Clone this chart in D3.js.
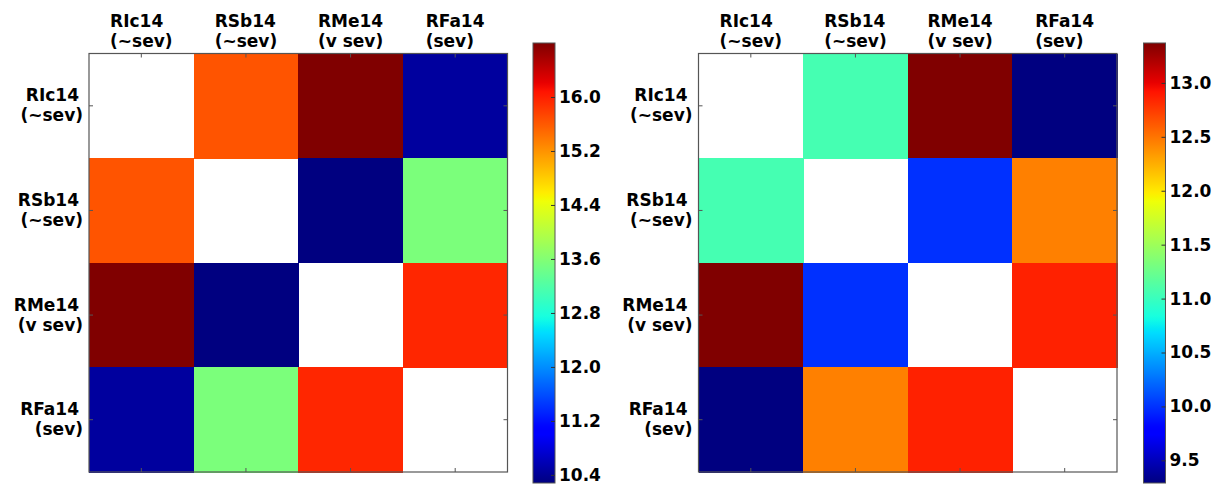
<!DOCTYPE html>
<html>
<head>
<meta charset="utf-8">
<script src="https://cdn.jsdelivr.net/npm/d3@7"></script>
<style>
  body { margin: 0; background: #fff; }
  svg text { font-family: "DejaVu Sans", sans-serif; font-weight: bold; font-size: 17px; fill: #000; }
</style>
</head>
<body>
<div id="graph-wrapper"></div>
<script>
const sites = ["RIc14", "RSb14", "RMe14", "RFa14"];
const severity = ["(~sev)", "(~sev)", "(v sev)", "(sev)"];

// left panel (diagonal empty)
const leftValues = [
  [null, 15.63, 16.80, 10.45],
  [15.63, null, 10.28, 13.54],
  [16.80, 10.28, null, 15.95],
  [10.45, 13.54, 15.95, null]
];
const leftTicks = [10.4, 11.2, 12.0, 12.8, 13.6, 14.4, 15.2, 16.0];

// right panel
const rightValues = [
  [null, 11.06, 13.37, 9.29],
  [11.06, null, 9.99, 12.45],
  [13.37, 9.99, null, 12.86],
  [9.29, 12.45, 12.86, null]
];
const rightTicks = [9.5, 10.0, 10.5, 11.0, 11.5, 12.0, 12.5, 13.0];

// matplotlib jet segment data
const jetR = [[0, 0], [0.35, 0], [0.66, 1], [0.89, 1], [1, 0.5]];
const jetG = [[0, 0], [0.125, 0], [0.375, 1], [0.64, 1], [0.91, 0], [1, 0]];
const jetB = [[0, 0.5], [0.11, 1], [0.34, 1], [0.65, 0], [1, 0]];
const seg = (s) => d3.scaleLinear().domain(s.map(d => d[0])).range(s.map(d => d[1])).clamp(true);
const r = seg(jetR), g = seg(jetG), b = seg(jetB);
const jet = (t) => d3.rgb(r(t) * 255, g(t) * 255, b(t) * 255).formatHex();

const width = 1222;
const height = 484;

const svg = d3.select("#graph-wrapper").append("svg")
  .attr("width", width)
  .attr("height", height);

function drawPanel(values, ticks, left, cbLeft, fmt, l2dx) {
  const top = 53.5;
  const size = 418.5;
  const flat = values.flat().filter(v => v !== null);
  const vmin = d3.min(flat), vmax = d3.max(flat);
  const color = d3.scaleSequential(jet).domain([vmin, vmax]);

  const x = d3.scaleBand().domain(sites).range([left, left + size]);
  const y = d3.scaleBand().domain(sites).range([top, top + size]);

  const panel = svg.append("g");

  // cells
  const cells = [];
  values.forEach((row, i) => row.forEach((v, j) => cells.push({ row: sites[i], col: sites[j], v })));
  panel.append("g").selectAll("rect")
    .data(cells.filter(d => d.v !== null))
    .enter().append("rect")
    .attr("x", d => x(d.col))
    .attr("y", d => y(d.row))
    .attr("width", x.bandwidth() + 0.5)
    .attr("height", y.bandwidth() + 0.5)
    .attr("fill", d => color(d.v))
    .attr("shape-rendering", "crispEdges");

  // frame
  panel.append("rect")
    .attr("x", left).attr("y", top)
    .attr("width", size).attr("height", size)
    .attr("fill", "none").attr("stroke", "#555").attr("stroke-width", 1.2);

  // inward tick marks on all sides
  const tickLen = 4;
  const centers = sites.map(s => x(s) + x.bandwidth() / 2);
  const rowCenters = sites.map(s => y(s) + y.bandwidth() / 2);
  const tg = panel.append("g").attr("stroke", "#555").attr("stroke-width", 1);
  centers.forEach(cx => {
    tg.append("line").attr("x1", cx).attr("x2", cx).attr("y1", top).attr("y2", top + tickLen);
    tg.append("line").attr("x1", cx).attr("x2", cx).attr("y1", top + size).attr("y2", top + size - tickLen);
  });
  rowCenters.forEach(cy => {
    tg.append("line").attr("y1", cy).attr("y2", cy).attr("x1", left).attr("x2", left + tickLen);
    tg.append("line").attr("y1", cy).attr("y2", cy).attr("x1", left + size).attr("x2", left + size - tickLen);
  });

  // column labels: lines left-aligned, block centered on the cell
  sites.forEach((s, i) => {
    const t = panel.append("text");
    t.append("tspan").attr("x", 0).attr("y", 27).text(s);
    t.append("tspan").attr("x", 0).attr("y", 47).text(severity[i]);
    const w = t.node().getBBox().width;
    t.attr("transform", `translate(${centers[i] - w / 2},0)`);
  });

  // row labels: right aligned
  sites.forEach((s, i) => {
    const cy = rowCenters[i];
    const t = panel.append("text").attr("text-anchor", "end");
    t.append("tspan").attr("x", left - 10 - l2dx).attr("y", cy - 4.5).text(s);
    t.append("tspan").attr("x", left - 6).attr("y", cy + 15.5).text(severity[i]);
  });

  // colorbar
  const cbTop = 43, cbBottom = 483, cbW = 22;
  const cy = d3.scaleLinear().domain([vmin, vmax]).range([cbBottom, cbTop]);
  const gradId = "grad" + left;
  const grad = svg.append("defs").append("linearGradient")
    .attr("id", gradId)
    .attr("x1", 0).attr("y1", 1).attr("x2", 0).attr("y2", 0);
  d3.range(0, 1.0001, 0.01).forEach(t => {
    grad.append("stop").attr("offset", t).attr("stop-color", jet(t));
  });
  panel.append("rect")
    .attr("x", cbLeft).attr("y", cbTop)
    .attr("width", cbW).attr("height", cbBottom - cbTop)
    .attr("fill", `url(#${gradId})`)
    .attr("stroke", "#555").attr("stroke-width", 1);

  const cbAxis = d3.axisRight(cy).tickValues(ticks).tickSize(-4).tickPadding(8).tickFormat(fmt);
  const ag = panel.append("g")
    .attr("transform", `translate(${cbLeft + cbW},0)`)
    .call(cbAxis);
  ag.select(".domain").remove();
  ag.selectAll(".tick line").attr("stroke", "#333");
  ag.selectAll(".tick text")
    .attr("font-family", "DejaVu Sans")
    .attr("font-size", 17)
    .attr("font-weight", "bold")
    .attr("x", 4);
}

drawPanel(leftValues, leftTicks, 89, 533, d3.format(".1f"), 0);
drawPanel(rightValues, rightTicks, 698.5, 1143.5, d3.format(".1f"), 1);
</script>
</body>
</html>
